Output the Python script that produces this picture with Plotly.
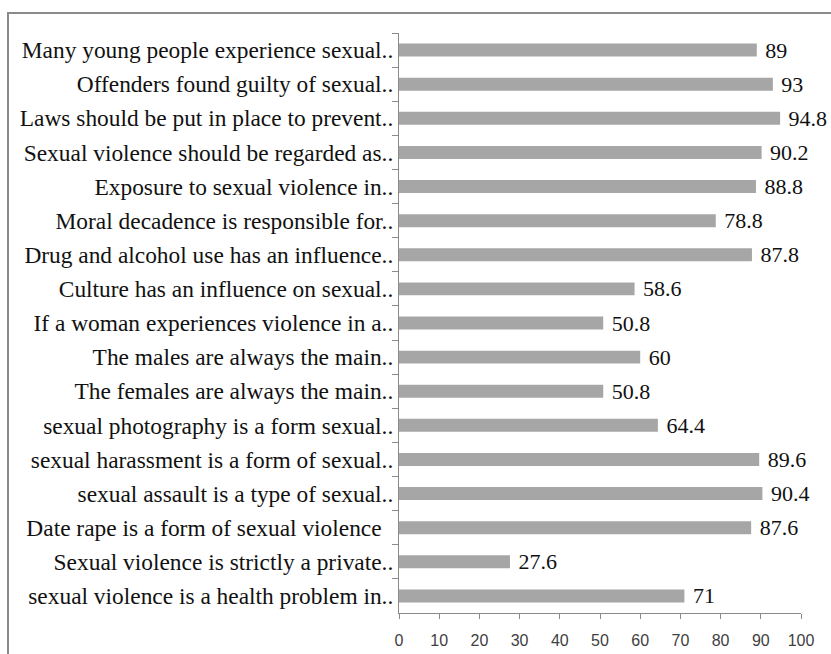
import plotly.graph_objects as go

categories = [
    "Many young people experience sexual..",
    "Offenders found guilty of sexual..",
    "Laws should be put in place to prevent..",
    "Sexual violence should be regarded as..",
    "Exposure to sexual violence in..",
    "Moral decadence is responsible for..",
    "Drug and alcohol use has an influence..",
    "Culture has an influence on sexual..",
    "If a woman experiences violence in a..",
    "The males are always the main..",
    "The females are always the main..",
    "sexual photography is a form sexual..",
    "sexual harassment is a form of sexual..",
    "sexual assault is a type of sexual..",
    "Date rape is a form of sexual violence\u00a0\u00a0",
    "Sexual violence is strictly a private..",
    "sexual violence is a health problem in..",
]
values = [89, 93, 94.8, 90.2, 88.8, 78.8, 87.8, 58.6, 50.8, 60, 50.8, 64.4, 89.6, 90.4, 87.6, 27.6, 71]
x_ticks = list(range(0, 101, 10))

W, H = 831, 654
L, R, T, B = 399, 30, 33, 41
pw, ph = W - L - R, H - T - B

fig = go.Figure(go.Bar(
    y=categories,
    x=values,
    orientation="h",
    marker=dict(color="#a6a6a6", line=dict(width=0)),
    width=0.38,
    text=[f"\u00a0{v:g}" for v in values],
    textposition="outside",
    constraintext="none",
    textfont=dict(family="Liberation Serif", size=22, color="#111111"),
    cliponaxis=False,
))

def px_x(p):
    return (p - L) / pw

def px_y(p):
    return 1 - (p - T) / ph

fig.update_layout(
    width=W, height=H,
    margin=dict(l=L, r=R, t=T, b=B, autoexpand=False),
    plot_bgcolor="white",
    paper_bgcolor="white",
    showlegend=False,
    shapes=[
        dict(type="line", xref="paper", yref="paper",
             x0=px_x(8), x1=px_x(835), y0=px_y(13), y1=px_y(13),
             line=dict(color="#8a8a8a", width=2)),
        dict(type="line", xref="paper", yref="paper",
             x0=px_x(8), x1=px_x(8), y0=px_y(12), y1=px_y(660),
             line=dict(color="#8a8a8a", width=2)),
    ],
)
fig.update_xaxes(
    range=[0, 100],
    tickvals=x_ticks,
    ticks="outside", ticklen=5, tickcolor="#8a8a8a",
    ticklabelstandoff=8,
    automargin=False,
    showline=True, linecolor="#8a8a8a", linewidth=1,
    showgrid=False, zeroline=False,
    tickfont=dict(family="Liberation Sans", size=16, color="#404040"),
)
fig.update_yaxes(
    autorange="reversed",
    automargin=False,
    ticks="outside", ticklen=6, tickcolor="#8a8a8a",
    tickson="boundaries",
    showline=True, linecolor="#8a8a8a", linewidth=1,
    showgrid=False, zeroline=False,
    tickfont=dict(family="Liberation Serif", size=23.4, color="#111111"),
)

fig.write_html("out.html")
